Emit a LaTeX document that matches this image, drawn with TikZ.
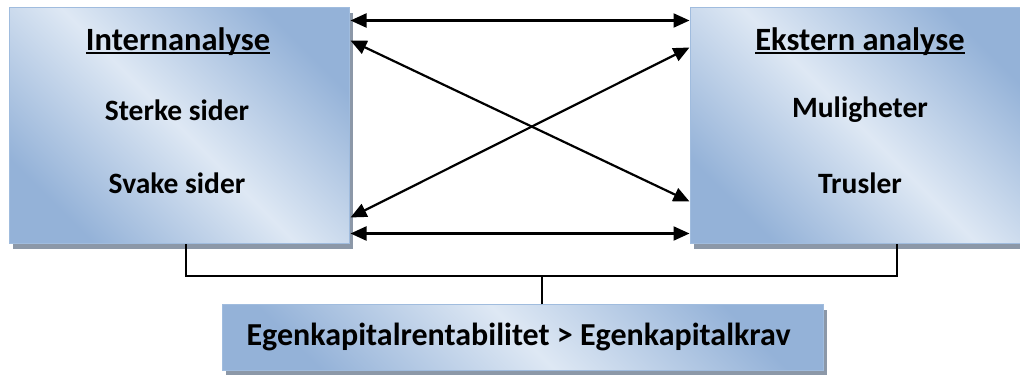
\documentclass[tikz,border=0pt]{standalone}
\usepackage{fontspec}
\setmainfont{Carlito}
\usetikzlibrary{arrows.meta,calc,shadows}
\definecolor{boxdark}{RGB}{148,178,216}
\definecolor{boxlight}{RGB}{222,232,244}
\definecolor{boxedge}{RGB}{160,188,222}
\definecolor{shadowgray}{RGB}{140,152,168}
\newcommand{\ulbox}[1]{\setbox0\hbox{#1}\rlap{\rule[-3.6pt]{\wd0}{2pt}}\box0}
\tikzset{
  panel/.style={draw=boxedge, line width=1pt, rectangle, inner sep=0pt,
    left color=boxdark, right color=boxdark, middle color=boxlight, shading angle=-45,
    general shadow={fill=shadowgray, shadow xshift=4pt, shadow yshift=-5pt}},
  label/.style={font=\bfseries\fontsize{29.5}{34}\selectfont, inner sep=0pt, anchor=center},
  title/.style={label, font=\bfseries\fontsize{32.5}{36}\selectfont},
  bottomlabel/.style={label, font=\bfseries\fontsize{32}{36}\selectfont},
  link/.style={line width=2.2pt, {Triangle[length=16pt,width=14pt]}-{Triangle[length=16pt,width=14pt]}},
  tie/.style={line width=1.6pt}
}
\begin{document}
\begin{tikzpicture}[x=1pt,y=-1pt]
\useasboundingbox (0,0) rectangle (1020,379);
\node[panel, minimum width=340pt, minimum height=236pt] (L) at (179,126) {};
\node[panel, minimum width=340pt, minimum height=236pt] (R) at (860,126) {};
\node[panel, minimum width=601pt, minimum height=65pt] (B) at (522.5,337.5) {};
\node[title] (Lt) at (178,42) {\ulbox{Internanalyse}};
\node[label] (Ls) at (177,110) {Sterke sider};
\node[label] (Lw) at (177,183) {Svake sider};
\node[title] (Rt) at (860,42) {\ulbox{Ekstern analyse}};
\node[label] (Ro) at (860,110) {Muligheter};
\node[label] (Rr) at (860,183) {Trusler};
\node[bottomlabel] (Bt) at (518.5,337) {Egenkapitalrentabilitet > Egenkapitalkrav};
% arrow end points on the box edges
\coordinate (l1) at ($(L.north east)+(1,13)$);
\coordinate (l2) at ($(L.north east)+(1,33)$);
\coordinate (l3) at ($(L.north east)+(1,210)$);
\coordinate (l4) at ($(L.north east)+(1,226)$);
\coordinate (r1) at ($(R.north west)+(0,13)$);
\coordinate (r2) at ($(R.north west)+(0,40)$);
\coordinate (r3) at ($(R.north west)+(0,194)$);
\coordinate (r4) at ($(R.north west)+(0,226)$);
\draw[link] (l1) -- (r1);
\draw[link] (l2) -- (r3);
\draw[link] (l3) -- (r2);
\draw[link] (l4) -- (r4);
% bracket to bottom box
\coordinate (ls) at ($(L.south)+(7,0)$);
\coordinate (rs) at ($(R.south)+(37,0)$);
\coordinate (bs) at ($(B.north)+(19.5,0)$);
\coordinate (jy) at (0,276);
\draw[tie] (ls) -- (ls |- jy) -- (rs |- jy) -- (rs);
\draw[tie] (bs) -- (bs |- jy);
\end{tikzpicture}
\end{document}
